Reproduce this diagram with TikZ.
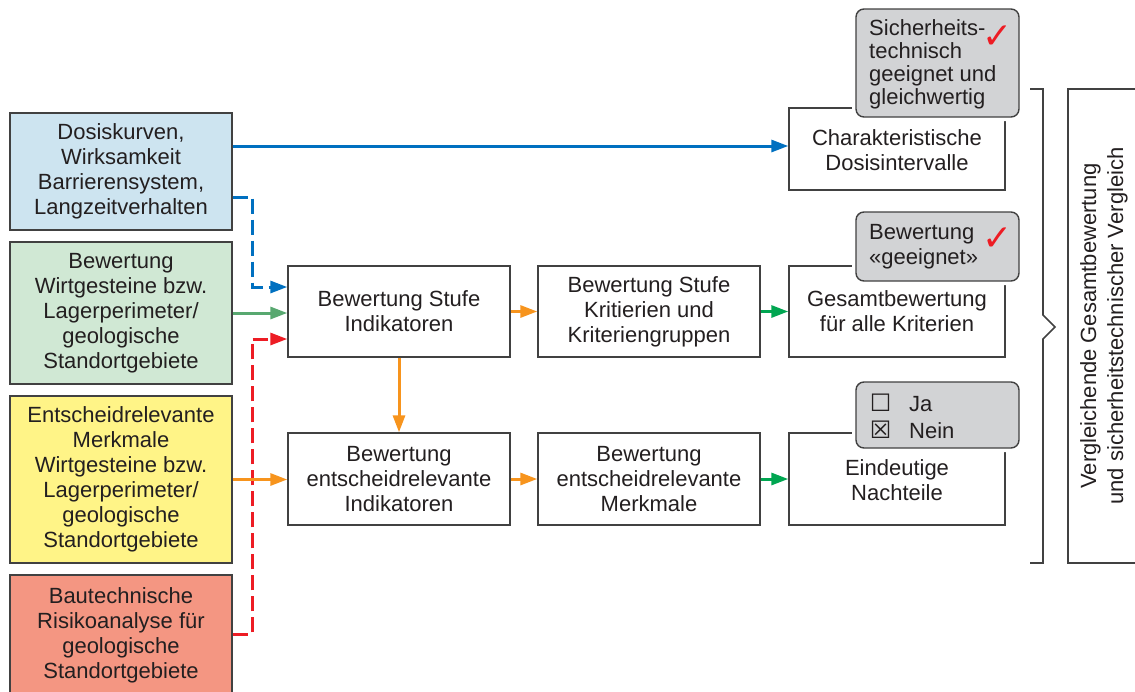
\documentclass[tikz,border=0pt]{standalone}
\usepackage{fontspec}
\setmainfont{Liberation Sans}
\newfontfamily\symfont{DejaVu Sans}
\usetikzlibrary{arrows.meta}
\definecolor{txt}{RGB}{35,31,32}
\definecolor{bord}{RGB}{65,65,65}
\definecolor{fblue}{RGB}{205,228,240}
\definecolor{fgreen}{RGB}{208,232,212}
\definecolor{fyellow}{RGB}{255,244,135}
\definecolor{fred}{RGB}{244,150,130}
\definecolor{fgray}{RGB}{210,211,213}
\definecolor{cblue}{RGB}{0,112,192}
\definecolor{cgreenA}{RGB}{88,168,112}
\definecolor{cgreenB}{RGB}{0,166,81}
\definecolor{corange}{RGB}{247,148,29}
\definecolor{cred}{RGB}{237,28,36}
\begin{document}
\begin{tikzpicture}[x=1pt,y=-1pt,
  every node/.style={font=\fontsize{22}{25}\selectfont, text=txt},
  box/.style={draw=bord, line width=1.4pt, align=center, inner sep=0pt, fill=white},
  badge/.style={draw=bord, line width=1.4pt, fill=fgray, rounded corners=8pt, inner sep=0pt,
    minimum width=163pt, preaction={draw=white, line width=8pt}},
  badgetext/.style={anchor=west, align=left, inner sep=0pt},
  conn/.style={line width=3pt, -{Triangle[length=17pt,width=12pt]}},
  dsh/.style={dash pattern=on 15pt off 6pt},
  chk/.style={text=cred, font=\symfont\fontsize{36}{36}\selectfont, inner sep=0pt}
]
\useasboundingbox (0,0) rectangle (1135,691);

% left input boxes
\node[box, fill=fblue, minimum width=222pt, minimum height=117pt] (blue) at (121,171.5)
  {Dosiskurven,\\Wirksamkeit\\Barrierensystem,\\Langzeitverhalten};
\node[box, fill=fgreen, minimum width=222pt, minimum height=142pt] (green) at (121,313)
  {Bewertung\\Wirtgesteine bzw.\\Lagerperimeter/\\geologische\\Standortgebiete};
\node[box, fill=fyellow, minimum width=222pt, minimum height=167pt] (yellow) at (121,479.5)
  {Entscheidrelevante\\Merkmale\\Wirtgesteine bzw.\\Lagerperimeter/\\geologische\\Standortgebiete};
\node[box, fill=fred, minimum width=222pt, minimum height=120pt] (red) at (121,635)
  {Bautechnische\\Risikoanalyse für\\geologische\\Standortgebiete};

% process boxes
\node[box, minimum width=222pt, minimum height=91pt] (ind) at (399,311.5)
  {Bewertung Stufe\\Indikatoren};
\node[box, minimum width=222pt, minimum height=91pt] (krit) at (649,311.5)
  {Bewertung Stufe\\Kritierien und\\Kriteriengruppen};
\node[box, minimum width=216pt, minimum height=91pt] (ges) at (897,311.5)
  {Gesamtbewertung\\für alle Kriterien};
\node[box, minimum width=216pt, minimum height=82pt] (char) at (897,149)
  {\\[-6pt]Charakteristische\\Dosisintervalle};
\node[box, minimum width=222pt, minimum height=92pt] (ind2) at (399,479)
  {Bewertung\\entscheidrelevante\\Indikatoren};
\node[box, minimum width=222pt, minimum height=92pt] (merk) at (649,479)
  {Bewertung\\entscheidrelevante\\Merkmale};
\node[box, minimum width=216pt, minimum height=92pt] (ein) at (897,479)
  {\\[-6pt]Eindeutige\\Nachteile};

% badges
\node[badge, minimum height=108pt] (b1) at (937.5,63) {};
\node[badgetext, font=\fontsize{22}{23}\selectfont] (b1t) at (869,64.5)
  {Sicherheits-\\technisch\\geeignet und\\gleichwertig};
\node[chk] (c1) at (998,37) {✓};
\node[badge, minimum height=69pt] (b2) at (937.5,246.5) {};
\node[badgetext] (b2t) at (869,246.5) {Bewertung\\«geeignet»};
\node[chk] (c2) at (998,239) {✓};
\node[badge, minimum height=66pt] (b3) at (937.5,415) {};
\node[inner sep=0pt, font=\symfont\fontsize{24}{24}\selectfont] (ja) at (880.5,403) {☐};
\node[inner sep=0pt, font=\symfont\fontsize{24}{24}\selectfont] (nein) at (880.5,430) {☒};
\node[badgetext] (jat) at (909,404) {Ja};
\node[badgetext] (neint) at (909,431) {Nein};

% brace and comparison box
\draw[bord, line width=1.6pt] (1030,89) -- (1043,89) -- (1043,315) -- (1055,327)
  -- (1043,339) -- (1043,563) -- (1030,563);
\node[box, rotate=90, minimum width=474pt, minimum height=72pt,
  font=\fontsize{22}{27}\selectfont] (cmp) at (1104,326)
  {Vergleichende Gesamtbewertung\\und sicherheitstechnischer Vergleich};

% connectors
\coordinate (bs) at (500,146);
\draw[conn, cblue] (blue.east |- bs) -- (char.west |- bs);
\coordinate (bd1) at (252,197);
\coordinate (bd2) at (252,287);
\draw[conn, cblue, dsh] (blue.east |- bd1) -- (bd1) -- (bd2) -- (ind.west |- bd2);
\draw[conn, cgreenA] (green.east) -- (ind.west |- green.east);
\coordinate (rd1) at (252,634);
\coordinate (rd2) at (252,339);
\draw[conn, cred, dsh] (red.east |- rd1) -- (rd1) -- (rd2) -- (ind.west |- rd2);
\draw[conn, corange] (yellow.east) -- (ind2.west |- yellow.east);
\draw[conn, corange] (ind.east) -- (krit.west);
\draw[conn, cgreenB] (krit.east) -- (ges.west);
\draw[conn, corange] (ind.south) -- (ind2.north);
\draw[conn, corange] (ind2.east) -- (merk.west);
\draw[conn, cgreenB] (merk.east) -- (ein.west);
\end{tikzpicture}
\end{document}
